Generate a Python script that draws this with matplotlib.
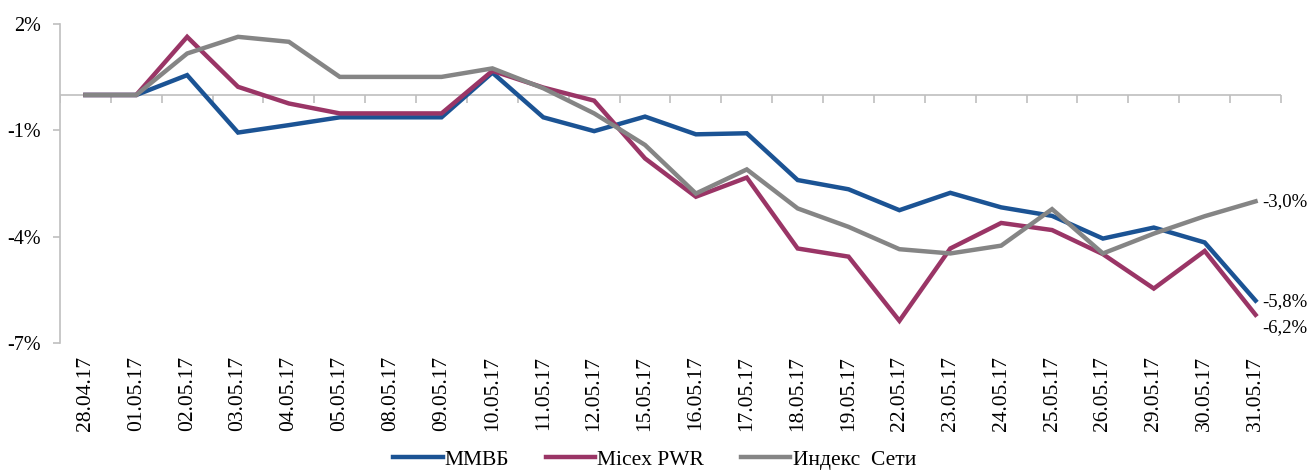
import numpy as np
import matplotlib
matplotlib.use("Agg")
import matplotlib.pyplot as plt

plt.rcParams['font.family'] = ['Liberation Serif', 'DejaVu Serif']

dates = ['28.04.17', '01.05.17', '02.05.17', '03.05.17', '04.05.17', '05.05.17',
         '08.05.17', '09.05.17', '10.05.17', '11.05.17', '12.05.17', '15.05.17',
         '16.05.17', '17.05.17', '18.05.17', '19.05.17', '22.05.17', '23.05.17',
         '24.05.17', '25.05.17', '26.05.17', '29.05.17', '30.05.17', '31.05.17']

# daily change vs 28.04.17, %
mmvb = [0, 0, 0.56, -1.06, -0.85, -0.63, -0.63, -0.63, 0.63, -0.63, -1.02, -0.61,
        -1.11, -1.08, -2.40, -2.66, -3.25, -2.76, -3.17, -3.41, -4.05, -3.74, -4.16, -5.8]
micex_pwr = [0, 0, 1.64, 0.23, -0.24, -0.52, -0.52, -0.52, 0.68, 0.21, -0.16, -1.79,
             -2.87, -2.33, -4.33, -4.56, -6.37, -4.33, -3.61, -3.81, -4.49, -5.46, -4.40, -6.2]
seti = [0, 0, 1.17, 1.64, 1.50, 0.51, 0.51, 0.51, 0.75, 0.19, -0.52, -1.41,
        -2.78, -2.10, -3.20, -3.72, -4.35, -4.47, -4.25, -3.22, -4.47, -3.91, -3.42, -3.0]

names = ['ММВБ', 'Micex PWR', 'Индекс  Сети']
colors = ['#1B5394', '#9A3566', '#858585']
yticks = [2, -1, -4, -7]

fig = plt.figure(figsize=(13.09, 4.72), dpi=100)
ax = fig.add_axes([0.0458, 0.273, 0.9328, 0.676])

x = np.arange(len(dates))
for vals, name, c in zip([mmvb, micex_pwr, seti], names, colors):
    ax.plot(x, vals, color=c, lw=3.2, label=name, solid_joinstyle='miter')

# zero line with category boundary ticks
grid_c = '#BFBFBF'
ax.axhline(0, color=grid_c, lw=1.2, zorder=0)
ax.plot(np.arange(len(dates) + 1) - 0.5, np.zeros(len(dates) + 1), ls='', marker=3,
        ms=6, mew=1.2, color=grid_c, zorder=0)

ax.set_xlim(-0.5, len(dates) - 0.5)
ax.set_ylim(-7, 2)
ax.set_yticks(yticks)
ax.set_yticklabels([f'{t}%' for t in yticks], fontsize=14.5)
ax.set_xticks(x)
ax.set_xticklabels(dates, rotation=90, fontsize=15.5)
ax.tick_params(axis='x', length=0, pad=9)
ax.tick_params(axis='y', length=5, width=1.2, color=grid_c, pad=9)

for s in ['top', 'right', 'bottom']:
    ax.spines[s].set_visible(False)
ax.spines['left'].set_color(grid_c)
ax.spines['left'].set_linewidth(1.2)

# end labels
ends = [(mmvb[-1], '-5,8%', -1), (micex_pwr[-1], '-6,2%', -9), (seti[-1], '-3,0%', 0)]
for v, txt, dy in ends:
    ax.annotate(txt, xy=(x[-1], v), xytext=(5, dy), textcoords='offset points',
                ha='left', va='center', fontsize=13.5)

fig.legend(loc='lower center', bbox_to_anchor=(0.5, -0.036), ncol=3, frameon=False,
           fontsize=15.5, handlelength=2.3, handletextpad=0.1, columnspacing=1.7)

fig.savefig('out.png', dpi=100)
